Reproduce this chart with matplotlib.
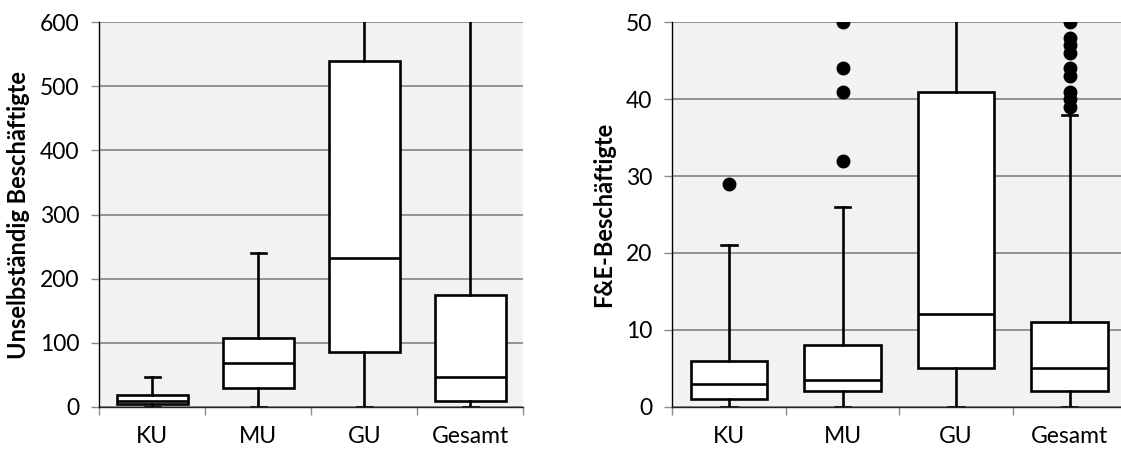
import matplotlib
matplotlib.use("Agg")
import matplotlib.pyplot as plt
from matplotlib.ticker import FixedLocator

plt.rcParams['font.family'] = ['Lato', 'DejaVu Sans']

kategorien = ['KU', 'MU', 'GU', 'Gesamt']

# Unselbständig Beschäftigte: Whisker unten, Q1, Median, Q3, Whisker oben
ub_whislo = [0, 0, 0, 0]
ub_q1 = [4, 29, 85, 9]
ub_med = [9, 68, 232, 46]
ub_q3 = [18, 107, 539, 174]
ub_whishi = [47, 240, 1000, 1000]
ub_ausreisser = [[], [], [], []]

# F&E-Beschäftigte
fe_whislo = [0, 0, 0, 0]
fe_q1 = [1, 2, 5, 2]
fe_med = [3, 3.5, 12, 5]
fe_q3 = [6, 8, 41, 11]
fe_whishi = [21, 26, 100, 38]
fe_ausreisser = [[29], [32, 41, 44, 50], [], [39, 40, 41, 43, 44, 46, 47, 48, 50]]


def stats(whislo, q1, med, q3, whishi, fliers):
    return [dict(whislo=a, q1=b, med=c, q3=d, whishi=e, fliers=f, label=k)
            for a, b, c, d, e, f, k in zip(whislo, q1, med, q3, whishi, fliers, kategorien)]


def zeichne(ax, st, ymax, ystep, ylabel, labelx):
    ax.set_facecolor('#F2F2F2')
    ax.set_ylim(0, ymax)
    ax.set_xlim(0.5, 4.5)
    ax.set_yticks(range(0, ymax + 1, ystep))
    ax.yaxis.grid(True, color='#8c8c8c', linewidth=1.3)
    ax.set_axisbelow(True)
    lw = 1.9
    ax.bxp(st, positions=[1, 2, 3, 4], widths=0.67, capwidths=0.14,
           patch_artist=True, manage_ticks=False,
           boxprops=dict(facecolor='white', edgecolor='black', linewidth=lw),
           medianprops=dict(color='black', linewidth=lw),
           whiskerprops=dict(color='black', linewidth=lw),
           capprops=dict(color='black', linewidth=lw),
           flierprops=dict(marker='o', markerfacecolor='black', markeredgecolor='black',
                           markersize=9, linestyle='none'))
    # Striche zwischen den Kategorien, Beschriftung in der Mitte
    ax.xaxis.set_major_locator(FixedLocator([0.5, 1.5, 2.5, 3.5, 4.5]))
    ax.xaxis.set_minor_locator(FixedLocator([1, 2, 3, 4]))
    ax.set_xticklabels([])
    ax.set_xticklabels(kategorien, minor=True)
    ax.tick_params(axis='x', which='major', length=6, color='#8c8c8c', width=1)
    ax.tick_params(axis='x', which='minor', length=0, pad=14, labelsize=16.5)
    ax.tick_params(axis='y', length=5.5, color='#8c8c8c', width=1, pad=9, labelsize=16.5)
    for s in ['top', 'right']:
        ax.spines[s].set_visible(False)
    ax.spines['left'].set_color('black')
    ax.spines['left'].set_linewidth(1.0)
    ax.spines['bottom'].set_color('#222222')
    ax.spines['bottom'].set_linewidth(1.0)
    ax.set_ylabel(ylabel, fontsize=17, fontweight='bold')
    ax.yaxis.set_label_coords(labelx, 0.5)


fig = plt.figure(figsize=(11.21, 4.5), dpi=100)
ax1 = fig.add_axes([0.0886, 0.0962, 0.3782, 0.8542])
ax2 = fig.add_axes([0.5997, 0.0962, 0.405, 0.8542])

zeichne(ax1, stats(ub_whislo, ub_q1, ub_med, ub_q3, ub_whishi, ub_ausreisser),
        600, 100, 'Unselbständig Beschäftigte', -0.163)
zeichne(ax2, stats(fe_whislo, fe_q1, fe_med, fe_q3, fe_whishi, fe_ausreisser),
        50, 10, 'F&E-Beschäftigte', -0.126)

fig.savefig('out.png', dpi=100)
